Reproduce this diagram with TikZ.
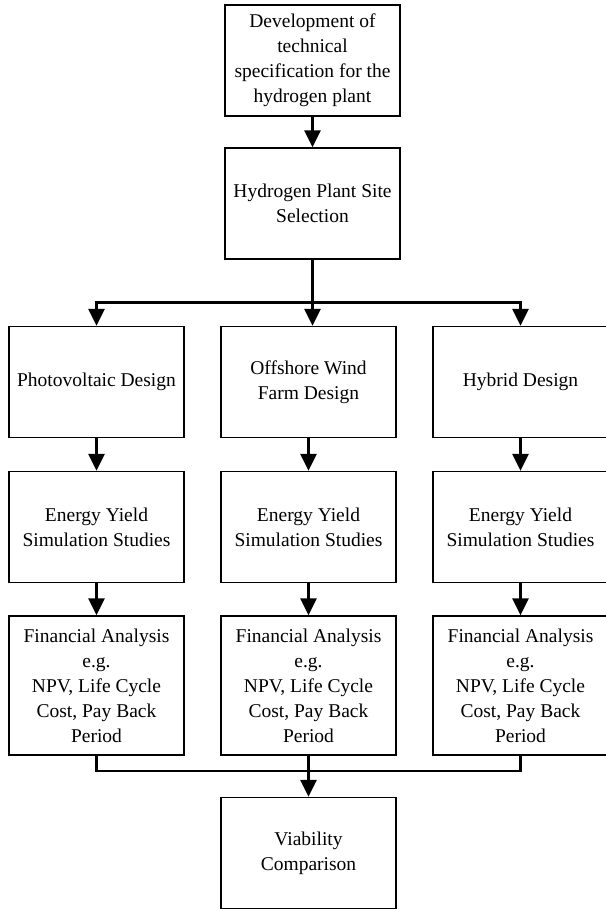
\documentclass[tikz,border=0pt]{standalone}
\usepackage{fontspec}
\setmainfont{Liberation Serif}
\usetikzlibrary{arrows.meta,positioning}

\begin{document}
\begin{tikzpicture}[->,>={Triangle[length=17pt,width=16pt]},line width=2.5pt,
                    node distance=212pt]
  \tikzstyle{block}=[rectangle,draw,line width=1.3pt,minimum width=175pt,
                     minimum height=111pt,align=center,inner sep=2pt,
                     font=\fontsize{19.5}{25}\selectfont]
  \useasboundingbox (0,0) rectangle (605pt,-909pt);

  \node[block] (dev) at (312.5pt,-60.5pt) {Development of\\technical\\specification for the\\hydrogen plant};
  \node[block] (site) [below of=dev,node distance=143pt] {Hydrogen Plant Site\\Selection};

  \node[block]         (owf) at (308.5pt,-382pt) {Offshore Wind\\Farm Design};
  \node[block]         (pv)  [left of=owf]  {Photovoltaic Design};
  \node[block]         (hyb) [right of=owf] {Hybrid Design};

  \node[block]         (ey1) [below of=pv,node distance=145pt]  {Energy Yield\\Simulation Studies};
  \node[block]         (ey2) [below of=owf,node distance=145pt] {Energy Yield\\Simulation Studies};
  \node[block]         (ey3) [below of=hyb,node distance=145pt] {Energy Yield\\Simulation Studies};

  \node[block,minimum height=139pt] (fa1) [below of=ey1,node distance=158.5pt] {Financial Analysis\\e.g.\\NPV, Life Cycle\\Cost, Pay Back\\Period};
  \node[block,minimum height=139pt] (fa2) [below of=ey2,node distance=158.5pt] {Financial Analysis\\e.g.\\NPV, Life Cycle\\Cost, Pay Back\\Period};
  \node[block,minimum height=139pt] (fa3) [below of=ey3,node distance=158.5pt] {Financial Analysis\\e.g.\\NPV, Life Cycle\\Cost, Pay Back\\Period};

  \node[block]         (viab) [below of=fa2,node distance=167.5pt] {Viability\\Comparison};

  \coordinate (split) at (site.south |- 0,-302.5pt);
  \coordinate (merge) at (fa2.south |- 0,-771pt);

  \path (dev) edge (site)
        (pv)  edge (ey1)
        (owf) edge (ey2)
        (hyb) edge (ey3)
        (ey1) edge (fa1)
        (ey2) edge (fa2)
        (ey3) edge (fa3)
        (fa2) edge (viab);

  \draw[-] (site) -- (split);
  \draw (split) -| (pv);
  \draw (split) -- (split |- owf.north);
  \draw (split) -| (hyb);

  \draw[-] (fa1) |- (merge) -| (fa3);
\end{tikzpicture}
\end{document}
